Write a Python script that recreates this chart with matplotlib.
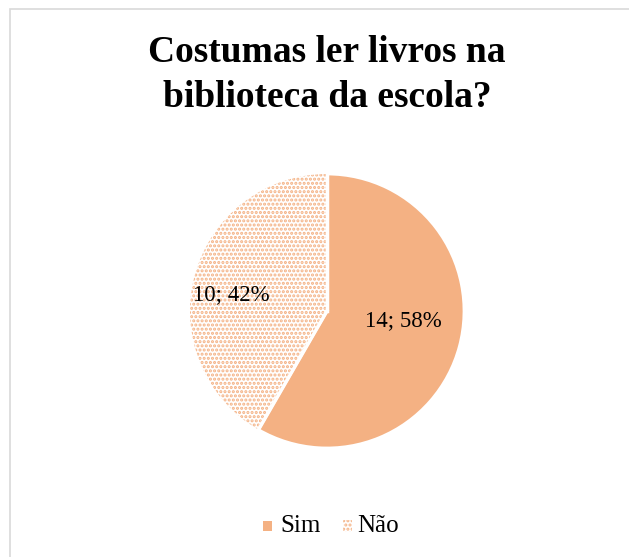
import matplotlib.pyplot as plt
import numpy as np
from matplotlib.patches import Rectangle

plt.rcParams['font.family'] = ['Liberation Serif', 'DejaVu Serif']
plt.rcParams['hatch.linewidth'] = 1.5

labels = ['Sim', 'Não']
values = [14, 10]
pct = [58, 42]
cor = '#F4B183'

fig = plt.figure(figsize=(6.29, 5.57), dpi=100)

# moldura cinza clara (só se vê à esquerda e em cima)
fig.patches.append(Rectangle((10 / 629, -0.1), 1.2, 1.1 - 9 / 557, transform=fig.transFigure,
                             fill=False, edgecolor='#d9d9d9', linewidth=1.2))

fig.text(0.52, 0.905, 'Costumas ler livros na', ha='center', va='center',
         fontsize=27, fontweight='bold')
fig.text(0.52, 0.825, 'biblioteca da escola?', ha='center', va='center',
         fontsize=27, fontweight='bold')

ax = fig.add_axes([(327 - 137) / 629, 1 - (311 + 137) / 557, 274 / 629, 274 / 557])
wedges, _ = ax.pie(values, startangle=90, counterclock=False,
                   colors=[cor, 'white'],
                   wedgeprops=dict(edgecolor='white', linewidth=2))
wedges[1].set_hatch('....')
wedges[1].set_edgecolor(cor)
wedges[1].set_linewidth(0)
# borda branca entre as fatias
ax.plot([0, 0], [0, 1], color='white', lw=2.5)
ang = np.deg2rad(90 - 360 * values[0] / sum(values))
ax.plot([0, np.cos(ang)], [0, np.sin(ang)], color='white', lw=2.5)
ax.set_xlim(-1, 1)
ax.set_ylim(-1, 1)
ax.set_aspect('equal')

ax.text(0.56, -0.07, f'{values[0]}; {pct[0]}%', ha='center', va='center', fontsize=16.5)
ax.text(-0.7, 0.12, f'{values[1]}; {pct[1]}%', ha='center', va='center', fontsize=16.5)

# legenda
fig.patches.append(Rectangle((263 / 629, 1 - 531 / 557), 9 / 629, 10 / 557,
                             transform=fig.transFigure, facecolor=cor, edgecolor='none'))
fig.text(280 / 629, 1 - 526 / 557, labels[0], ha='left', va='center', fontsize=18)
fig.patches.append(Rectangle((343 / 629, 1 - 532 / 557), 9 / 629, 12 / 557,
                             transform=fig.transFigure, facecolor='white', edgecolor=cor,
                             hatch='....', linewidth=0))
fig.text(357 / 629, 1 - 526 / 557, labels[1], ha='left', va='center', fontsize=18)

fig.savefig('out.png', dpi=100)
